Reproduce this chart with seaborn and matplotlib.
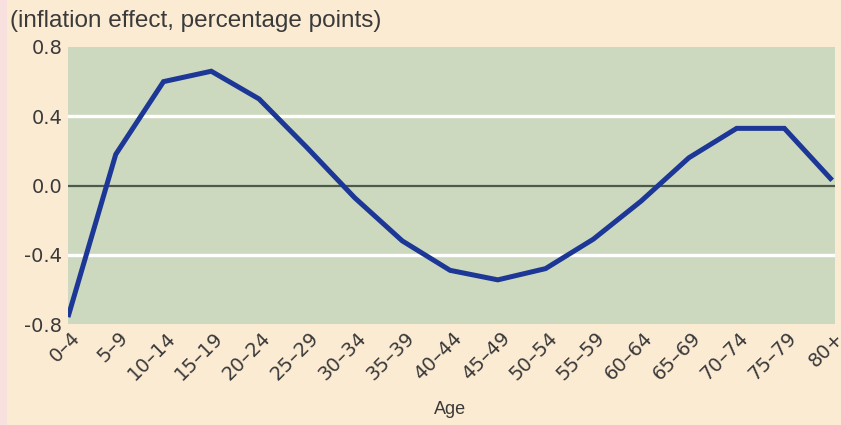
import matplotlib
matplotlib.use("Agg")
import matplotlib.pyplot as plt
import matplotlib.transforms as mtransforms
import seaborn as sns
import pandas as pd

ages = ["0–4", "5–9", "10–14", "15–19", "20–24", "25–29", "30–34", "35–39",
        "40–44", "45–49", "50–54", "55–59", "60–64", "65–69", "70–74", "75–79", "80+"]
effect = [-0.76, 0.18, 0.60, 0.66, 0.50, 0.22, -0.07, -0.32,
          -0.49, -0.545, -0.48, -0.31, -0.09, 0.16, 0.33, 0.33, 0.03]
y_ticks = [-0.8, -0.4, 0.0, 0.4, 0.8]
y_labels = ["-0.8", "-0.4", "0.0", "0.4", "0.8"]
title_text = "(inflation effect, percentage points)"
x_title = "Age"

BG = "#fcebd3"
PLOT_BG = "#cdd9bf"
LINE = "#1c3796"
TEXT = "#3a3a3a"

sns.set_theme(style="white")
plt.rcParams["font.family"] = ["DejaVu Sans"]

df = pd.DataFrame({"pos": range(len(ages)), "effect": effect})

fig = plt.figure(figsize=(8.41, 4.25), dpi=100, facecolor=BG)
fig.patches.append(plt.Rectangle((0, 0), 7 / 841, 1, transform=fig.transFigure,
                                 facecolor="#f8e0df", edgecolor="none", zorder=0))
ax = fig.add_axes([68 / 841, 1 - 324 / 425, (835 - 68) / 841, (324 - 47) / 425])
ax.set_facecolor(PLOT_BG)

for v in [-0.4, 0.4]:
    ax.axhline(v, color="white", lw=2.4, zorder=1)
ax.axhline(0, color="#4d5a4a", lw=1.6, zorder=2)

sns.lineplot(data=df, x="pos", y="effect", ax=ax, color=LINE, lw=3.6, zorder=3,
             solid_joinstyle="miter", solid_capstyle="butt")

ax.set_xlim(0, 16.06)
ax.set_ylim(-0.8, 0.8)
for s in ax.spines.values():
    s.set_visible(False)

ax.set_yticks(y_ticks)
ax.set_yticklabels(y_labels, fontsize=14, color=TEXT)
ax.tick_params(axis="y", length=0, pad=4)

ax.set_xticks(range(len(ages)))
ax.set_xticklabels(ages, fontsize=14, color=TEXT, rotation=45, ha="right",
                   va="center", rotation_mode="anchor")
ax.tick_params(axis="x", direction="in", length=3, width=1.6, color="#555555", pad=2)
offset = mtransforms.ScaledTranslation(9 / 100, -8 / 100, fig.dpi_scale_trans)
for lab in ax.get_xticklabels():
    lab.set_transform(lab.get_transform() + offset)

ax.set_xlabel("")
ax.set_ylabel("")
fig.text(450 / 841, 1 - 410 / 425, x_title, ha="center", va="center",
         fontsize=13, color=TEXT, family=["Liberation Sans", "DejaVu Sans"])
fig.text(10 / 841, 1 - 21 / 425, title_text, ha="left", va="center",
         fontsize=17.5, color=TEXT, family=["Liberation Sans", "DejaVu Sans"])

fig.savefig("out.png", dpi=100, facecolor=BG)
